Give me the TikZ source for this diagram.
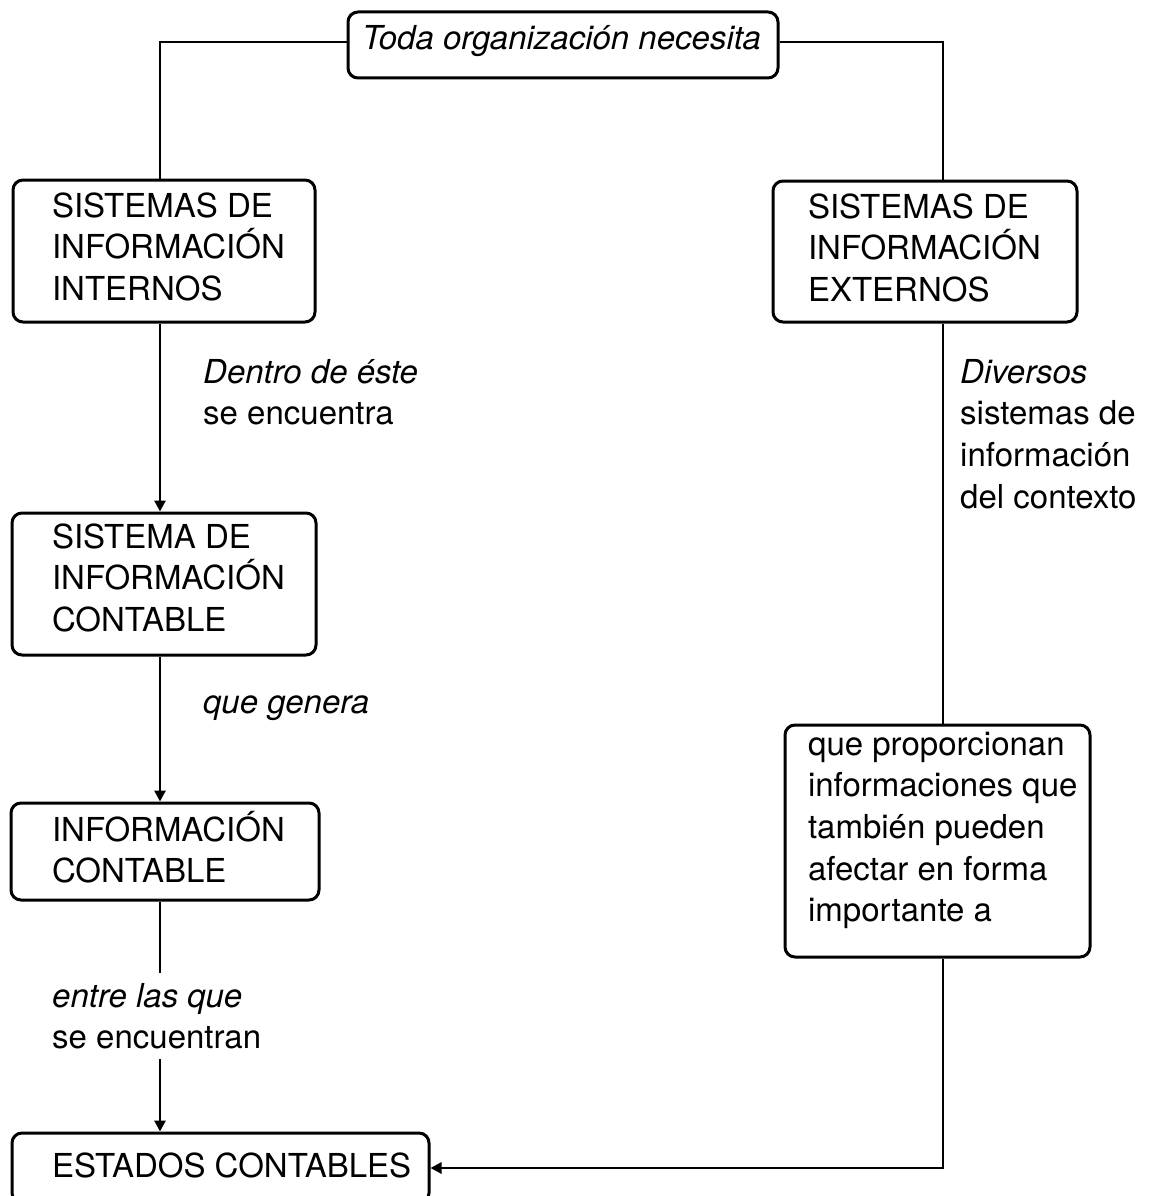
\documentclass[tikz,border=0pt]{standalone}
\usepackage{fontspec}
\setmainfont{TeX Gyre Heros}
\usetikzlibrary{arrows.meta}

% Box text: height, width, left padding, first baseline depth, lines
\newcommand\cajatexto[5]{\parbox[c][#1][t]{#2}{\leftskip=#3\relax\rightskip=0pt plus 1fil\relax\parindent=0pt\rule{0pt}{#4}#5}}
% Free label text, baseline at the first line
\newcommand\etiquetatexto[1]{\parbox[t]{240pt}{\raggedright #1}}

\tikzset{
  caja/.style={draw, rounded corners=10pt, line width=3pt, inner sep=0pt,
    font=\fontsize{33}{41.7}\selectfont},
  etiqueta/.style={inner sep=0pt, anchor=base west,
    font=\fontsize{33}{41.7}\selectfont},
  conector/.style={line width=2.9pt},
  flecha/.style={-{Triangle[length=11pt,width=11pt]}}
}

\begin{document}
\begin{tikzpicture}[x=1pt,y=-1pt]
\path[use as bounding box, clip] (0,0) rectangle (1151,1196);

% boxes
\node[caja] (top) at (563,45)
  {\cajatexto{66pt}{430pt}{14pt}{38pt}{\itshape Toda organización necesita}};
\node[caja] (internos) at (164,251)
  {\cajatexto{142pt}{302pt}{39pt}{37pt}{SISTEMAS DE\\INFORMACIÓN\\INTERNOS}};
\node[caja] (externos) at (925,251.5)
  {\cajatexto{141pt}{304pt}{35pt}{37pt}{SISTEMAS DE\\INFORMACIÓN\\EXTERNOS}};
\node[caja] (contable) at (164,584)
  {\cajatexto{142pt}{304pt}{40pt}{35pt}{SISTEMA DE\\INFORMACIÓN\\CONTABLE}};
\node[caja] (infocont) at (165,851.5)
  {\cajatexto{97pt}{308pt}{41pt}{38pt}{INFORMACIÓN\\CONTABLE}};
\node[caja] (estados) at (220.5,1168)
  {\cajatexto{70pt}{417pt}{40pt}{44pt}{ESTADOS CONTABLES}};
\node[caja] (contexto) at (937.5,841)
  {\cajatexto{232pt}{305pt}{23pt}{30pt}{que proporcionan\\informaciones que\\también pueden\\afectar en forma\\importante a}};

% x positions of the vertical connectors
\coordinate (lx) at (160,0);
\coordinate (rx) at (943,0);

% connectors
\draw[conector] ([yshift=3pt]top.west) -| (internos.north -| lx);
\draw[conector] ([yshift=3pt]top.east) -| (externos.north -| rx);
\draw[conector, flecha] (internos.south -| lx) -- (contable.north -| lx);
\draw[conector, flecha] (contable.south -| lx) -- (infocont.north -| lx);
\draw[conector, flecha] (infocont.south -| lx) -- (estados.north -| lx);
\draw[conector] (externos.south -| rx) -- (contexto.north -| rx);
\draw[conector, flecha] (contexto.south -| rx) |- (estados.east);

% connector labels
\node[etiqueta] (l1) at (203,383)
  {\etiquetatexto{\textit{Dentro de éste}\\se encuentra}};
\node[etiqueta] (l2) at (203,713)
  {\etiquetatexto{\textit{que genera}}};
\node[etiqueta, fill=white, inner ysep=10pt] (l3) at (52,1007)
  {\etiquetatexto{\textit{entre las que}\\se encuentran}};
\node[etiqueta] (l4) at (960,383)
  {\etiquetatexto{\textit{Diversos}\\sistemas de\\información\\del contexto}};
\end{tikzpicture}
\end{document}
